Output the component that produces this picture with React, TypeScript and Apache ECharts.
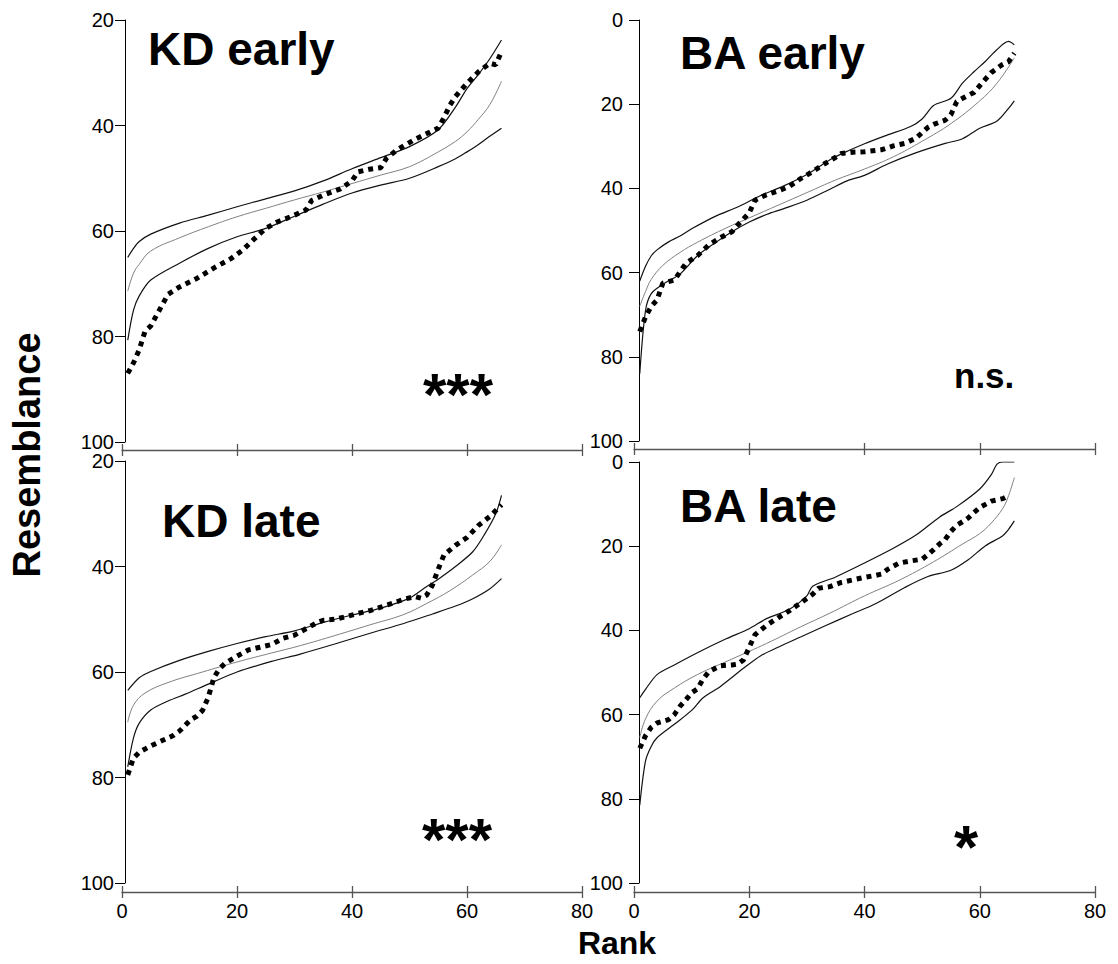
import React, { useEffect, useRef } from 'react';
import * as echarts from 'echarts';

// ---------- KD early ----------
const kdEarlyRanks = [1, 2, 3, 5, 10, 15, 20, 25, 30, 35, 40, 45, 50, 55, 58, 60, 62, 64, 66];
const kdEarlyUpper = [65, 63.3, 62, 60.6, 58.5, 57, 55.4, 53.9, 52.4, 50.5, 48.2, 46.1, 44, 40.8, 36.5, 33, 30.3, 27.3, 23.8];
const kdEarlyMean = [71.4, 68, 66.3, 63.8, 61.3, 59.2, 57.3, 55.7, 54.1, 52.6, 51.0, 49.4, 47.8, 45.0, 43, 41.2, 38.8, 36, 31.6];
const kdEarlyLower = [80.7, 75, 72.3, 69.3, 66.1, 63.3, 61.1, 59.5, 57.2, 54.9, 52.8, 51.3, 50.0, 47.8, 46.3, 45.0, 43.6, 42.0, 40.5];
const kdEarlyObsRanks = [1, 2, 3, 4, 5, 6, 7, 8, 10, 13, 16, 19, 21, 23, 25, 27, 30, 32, 33, 35, 38, 40, 41, 43, 45, 46, 48, 51, 54, 55, 56, 57, 58, 60, 62, 64, 65, 66];
const kdEarlyObs = [87, 85, 82.5, 79, 78, 76, 74, 72, 70.6, 69, 67, 65.2, 63.6, 61.5, 59.5, 58.3, 57, 56, 54.2, 53.2, 52, 50.5, 48.8, 48.3, 48, 46.2, 44.5, 42.6, 41, 40.5, 38.5, 36.2, 34.5, 32, 29.8, 28.2, 28.5, 26];

// ---------- BA early ----------
const baEarlyUpperRanks = [1, 2, 3, 4, 6, 8, 10, 14, 18, 22, 26, 30, 34, 36, 40, 44, 48, 50, 52, 55, 57, 59, 61, 63, 65, 66];
const baEarlyUpper = [62, 58.5, 56, 54.6, 52.7, 51.3, 49.6, 46.7, 44.4, 41.7, 39.4, 36.7, 33.2, 31.8, 29.4, 27.3, 25.3, 23.5, 20.3, 18.6, 15.0, 12.3, 9.8, 7.0, 5.1, 5.9];
const baEarlyMeanRanks = [1, 2, 3, 5, 8, 11, 16, 20, 25, 30, 35, 40, 45, 50, 55, 60, 63, 66];
const baEarlyMean = [68, 64.5, 61.6, 58.3, 55.2, 52.8, 49.4, 47, 44, 41, 38, 35.4, 32.5, 28.8, 24.6, 19.2, 15, 9];
const baEarlyLowerRanks = [1, 2, 3, 5, 8, 11, 14, 17, 20, 23, 26, 30, 34, 37, 40, 44, 49, 54, 57, 60, 63, 65, 66];
const baEarlyLower = [84, 69, 65, 62.8, 60.3, 56, 53, 50.3, 48, 46.2, 44.8, 42.8, 40.2, 38.2, 36.9, 34.2, 31.5, 29.3, 28.2, 25.7, 24, 21, 19.2];
const baEarlyObsRanks = [1, 2, 3, 4, 5, 7, 9, 11, 13, 15, 17, 18, 20, 21, 23, 25, 27, 29, 31, 33, 35, 36, 38, 40, 43, 45, 47, 49, 51, 52, 54, 55, 56, 57, 59, 61, 62, 64, 65, 66];
const baEarlyObs = [74, 70.5, 68, 66.5, 62.5, 61.8, 57.8, 56, 53.4, 51.7, 50.3, 48.7, 45.8, 42.8, 41.5, 40.6, 39.5, 37.6, 36, 34.2, 32.6, 31.7, 31.4, 31.3, 30.8, 29.9, 29.3, 28, 25.5, 24.8, 23.8, 22.5, 19.4, 18.6, 17.2, 14, 12.5, 10.5, 9.9, 7.9];

// ---------- KD late ----------
const kdLateUpperRanks = [1, 3, 5, 10, 15, 20, 25, 30, 35, 40, 45, 50, 53, 55, 58, 61, 63, 65, 66];
const kdLateUpper = [63.5, 61.1, 59.9, 57.8, 56.1, 54.6, 53.3, 52.2, 50.6, 49.2, 47.9, 46.0, 43.8, 42.4, 40, 37.2, 34, 30, 26.5];
const kdLateMeanRanks = [1, 2, 4, 8, 14, 20, 26, 31, 37, 43, 49, 53, 57, 61, 64, 66];
const kdLateMean = [69.5, 66.3, 64, 62, 60, 58.1, 56.4, 55, 53.1, 51.1, 49.1, 47, 44.6, 41.6, 39, 35.9];
const kdLateLowerRanks = [1, 2, 3, 5, 8, 11, 15, 20, 26, 31, 37, 43, 49, 54, 58, 61, 64, 66];
const kdLateLower = [78, 72.5, 69.7, 67.2, 65.5, 64.2, 62.3, 60, 58, 56.6, 54.7, 52.7, 50.8, 49, 47.5, 46.1, 44.2, 42.3];
const kdLateObsRanks = [1, 2, 3, 5, 7, 9, 10, 12, 13, 14, 15, 16, 17, 18, 20, 22, 24, 26, 28, 30, 32, 34, 35, 37, 39, 41, 43, 45, 47, 49, 51, 52, 53, 54, 55, 56, 58, 60, 62, 64, 66];
const kdLateObs = [79.5, 76.3, 75.2, 74, 73, 72, 71.2, 69, 68.4, 67.3, 64.8, 61, 59.3, 58.3, 57, 55.8, 55.3, 54.8, 53.6, 53, 51.8, 50.6, 50.2, 50, 49.5, 48.9, 48.4, 47.7, 47, 46.2, 45.7, 46, 45.4, 43.5, 40.5, 37.8, 36, 34.5, 32.2, 30.5, 28.3];

// ---------- BA late ----------
const baLateUpperRanks = [1, 2, 4, 7, 11, 16, 20, 23, 27, 30, 31, 35, 40, 45, 49, 53, 56, 60, 62, 63, 64, 66];
const baLateUpper = [56, 54, 50.5, 48.2, 45.3, 42, 39.6, 37.2, 35, 31.8, 29.5, 27.3, 24, 20.5, 17.3, 13.1, 10.6, 6.4, 3, 0.5, 0, 0];
const baLateMeanRanks = [1, 2, 4, 7, 11, 17, 23, 29, 34, 40, 46, 52, 57, 60, 62, 64, 65, 66];
const baLateMean = [65.5, 61, 56.8, 53.7, 50.5, 46.8, 43.1, 39.1, 35.9, 31.8, 28.1, 23.7, 19.5, 17, 14.5, 11, 8, 3.7];
const baLateLowerRanks = [1, 2, 3, 4, 7, 10, 12, 15, 19, 22, 25, 29, 33, 38, 42, 47, 51, 55, 58, 61, 64, 65, 66];
const baLateLower = [81.5, 71, 67.5, 65.5, 62.3, 59, 56, 53.3, 49, 46, 44, 41.5, 39, 36, 33.6, 29.8, 27.2, 25.7, 23.2, 19.9, 17.5, 16, 14];
const baLateObsRanks = [1, 2, 3, 4, 6, 7, 8, 9, 10, 11, 12, 13, 15, 17, 18, 19, 20, 21, 23, 25, 27, 29, 31, 32, 34, 36, 38, 40, 42, 43, 44, 46, 48, 50, 51, 52, 53, 54, 55, 56, 57, 58, 59, 60, 62, 64, 65];
const baLateObs = [68, 65, 63, 62, 61.2, 60, 58, 56.5, 54.8, 53.9, 51.5, 49.8, 48.4, 48.2, 48, 47, 44, 41, 38.8, 37, 35.3, 33.4, 31.4, 30, 29.6, 28.6, 28, 27.4, 26.9, 26.6, 25.5, 24, 23.5, 23.1, 22, 20.8, 19.5, 18.4, 16.5, 15, 14.2, 13.3, 12, 10.8, 9.3, 8.7, 8];

// ---------- axes / labels ----------
const xTicks = { min: 0, max: 80, interval: 20 };
const kdY = { min: 20, max: 100, interval: 20 };
const baY = { min: 0, max: 100, interval: 20 };
const titles = ['KD early', 'BA early', 'KD late', 'BA late'];
const significance = ['***', 'n.s.', '***', '*'];
const yAxisTitle = 'Resemblance';
const xAxisTitle = 'Rank';

const zip = (r: number[], v: number[]) => r.map((x, i) => [x, v[i]]);

const FONT = '"Liberation Sans", Arial, Helvetica, sans-serif';

export default function App() {
  const ref = useRef<HTMLDivElement>(null);
  useEffect(() => {
    const chart = echarts.init(ref.current!, null, { renderer: 'svg' });

    const panels = [
      {
        layout: { left: 122, top: 20, width: 460, height: 422 }, xOff: 8, yOff: -3, showX: false, y: kdY, labelMargin: 11,
        upper: zip(kdEarlyRanks, kdEarlyUpper), mean: zip(kdEarlyRanks, kdEarlyMean), lower: zip(kdEarlyRanks, kdEarlyLower), obs: zip(kdEarlyObsRanks, kdEarlyObs),
      },
      {
        layout: { left: 634, top: 20, width: 461, height: 421 }, xOff: 8, yOff: -5, showX: false, y: baY, labelMargin: 16,
        upper: zip(baEarlyUpperRanks, baEarlyUpper), mean: zip(baEarlyMeanRanks, baEarlyMean), lower: zip(baEarlyLowerRanks, baEarlyLower), obs: zip(baEarlyObsRanks, baEarlyObs),
      },
      {
        layout: { left: 122, top: 461, width: 460, height: 422 }, xOff: 9, yOff: -3, showX: true, y: kdY, labelMargin: 11,
        upper: zip(kdLateUpperRanks, kdLateUpper), mean: zip(kdLateMeanRanks, kdLateMean), lower: zip(kdLateLowerRanks, kdLateLower), obs: zip(kdLateObsRanks, kdLateObs),
      },
      {
        layout: { left: 634, top: 462, width: 461, height: 421 }, xOff: 9, yOff: -5, showX: true, y: baY, labelMargin: 16,
        upper: zip(baLateUpperRanks, baLateUpper), mean: zip(baLateMeanRanks, baLateMean), lower: zip(baLateLowerRanks, baLateLower), obs: zip(baLateObsRanks, baLateObs),
      },
    ];

    const grid: any[] = [];
    const xAxis: any[] = [];
    const yAxis: any[] = [];
    const series: any[] = [];

    panels.forEach((p, i) => {
      grid.push({ ...p.layout, containLabel: false, outerBoundsMode: 'none', show: false });
      xAxis.push({
        type: 'value', gridIndex: i, position: 'bottom', offset: p.xOff, ...xTicks,
        axisLine: { show: true, onZero: false, lineStyle: { color: '#555', width: 1.3 } },
        axisTick: { show: true, inside: false, length: 6, lineStyle: { color: '#555', width: 1.3 } },
        axisLabel: { show: p.showX, color: '#000', fontSize: 20, fontFamily: FONT, margin: 9 },
        splitLine: { show: false },
      });
      xAxis.push({
        type: 'value', gridIndex: i, position: 'bottom', offset: p.xOff, ...xTicks,
        axisLine: { show: false, onZero: false },
        axisTick: { show: true, inside: true, length: 6, lineStyle: { color: '#555', width: 1.3 } },
        axisLabel: { show: false },
        splitLine: { show: false },
      });
      yAxis.push({
        type: 'value', gridIndex: i, position: 'left', offset: p.yOff, inverse: true, ...p.y,
        axisLine: { show: true, onZero: false, lineStyle: { color: '#000', width: 1 } },
        axisTick: { show: true, inside: false, length: 10, lineStyle: { color: '#000', width: 1 } },
        axisLabel: { show: true, color: '#000', fontSize: 20, lineHeight: 15, fontFamily: FONT, margin: p.labelMargin },
        splitLine: { show: false },
      });
      const xi = i * 2;
      const base = { type: 'line', xAxisIndex: xi, yAxisIndex: i, showSymbol: false, symbol: 'none', silent: true };
      series.push({ ...base, name: titles[i] + ' upper', data: p.upper, smooth: 0.3, lineStyle: { color: '#111', width: 1.2 }, z: 2 });
      series.push({ ...base, name: titles[i] + ' lower', data: p.lower, smooth: 0.3, lineStyle: { color: '#111', width: 1.2 }, z: 2 });
      series.push({ ...base, name: titles[i] + ' mean', data: p.mean, smooth: 0.4, lineStyle: { color: '#808080', width: 1 }, z: 2 });
      series.push({ ...base, name: titles[i] + ' observed', data: p.obs, smooth: false, lineStyle: { color: '#000', width: 5, type: [5, 5], cap: 'butt' }, z: 3 });
    });

    const bold = (size: number) => `bold ${size}px ${FONT}`;
    const graphic: any[] = [
      { type: 'text', x: 148, y: 49, style: { text: titles[0], font: bold(46), fill: '#000', textVerticalAlign: 'middle' } },
      { type: 'text', x: 680, y: 53, style: { text: titles[1], font: bold(46), fill: '#000', textVerticalAlign: 'middle' } },
      { type: 'text', x: 162, y: 521, style: { text: titles[2], font: bold(46), fill: '#000', textVerticalAlign: 'middle' } },
      { type: 'text', x: 680, y: 506, style: { text: titles[3], font: bold(46), fill: '#000', textVerticalAlign: 'middle' } },
      { type: 'text', x: 458, y: 394, style: { text: significance[0], font: bold(60), fill: '#000', textAlign: 'center', textVerticalAlign: 'middle' } },
      { type: 'text', x: 954, y: 375, style: { text: significance[1], font: bold(35), fill: '#000', textAlign: 'left', textVerticalAlign: 'middle' } },
      { type: 'text', x: 457, y: 839, style: { text: significance[2], font: bold(60), fill: '#000', textAlign: 'center', textVerticalAlign: 'middle' } },
      { type: 'text', x: 966, y: 846, style: { text: significance[3], font: bold(62), fill: '#000', textAlign: 'center', textVerticalAlign: 'middle' } },
      { type: 'text', x: 27, y: 455, rotation: Math.PI / 2, style: { text: yAxisTitle, font: bold(38), fill: '#000', textAlign: 'center', textVerticalAlign: 'middle' } },
      { type: 'text', x: 617, y: 943, style: { text: xAxisTitle, font: bold(32), fill: '#000', textAlign: 'center', textVerticalAlign: 'middle' } },
    ];

    chart.setOption({
      animation: false,
      backgroundColor: '#fff',
      grid, xAxis, yAxis, series, graphic,
    });
    return () => chart.dispose();
  }, []);
  return <div ref={ref} style={{ position: 'absolute', left: 0, top: 0, width: 1118, height: 964, background: '#fff' }} />;
}
